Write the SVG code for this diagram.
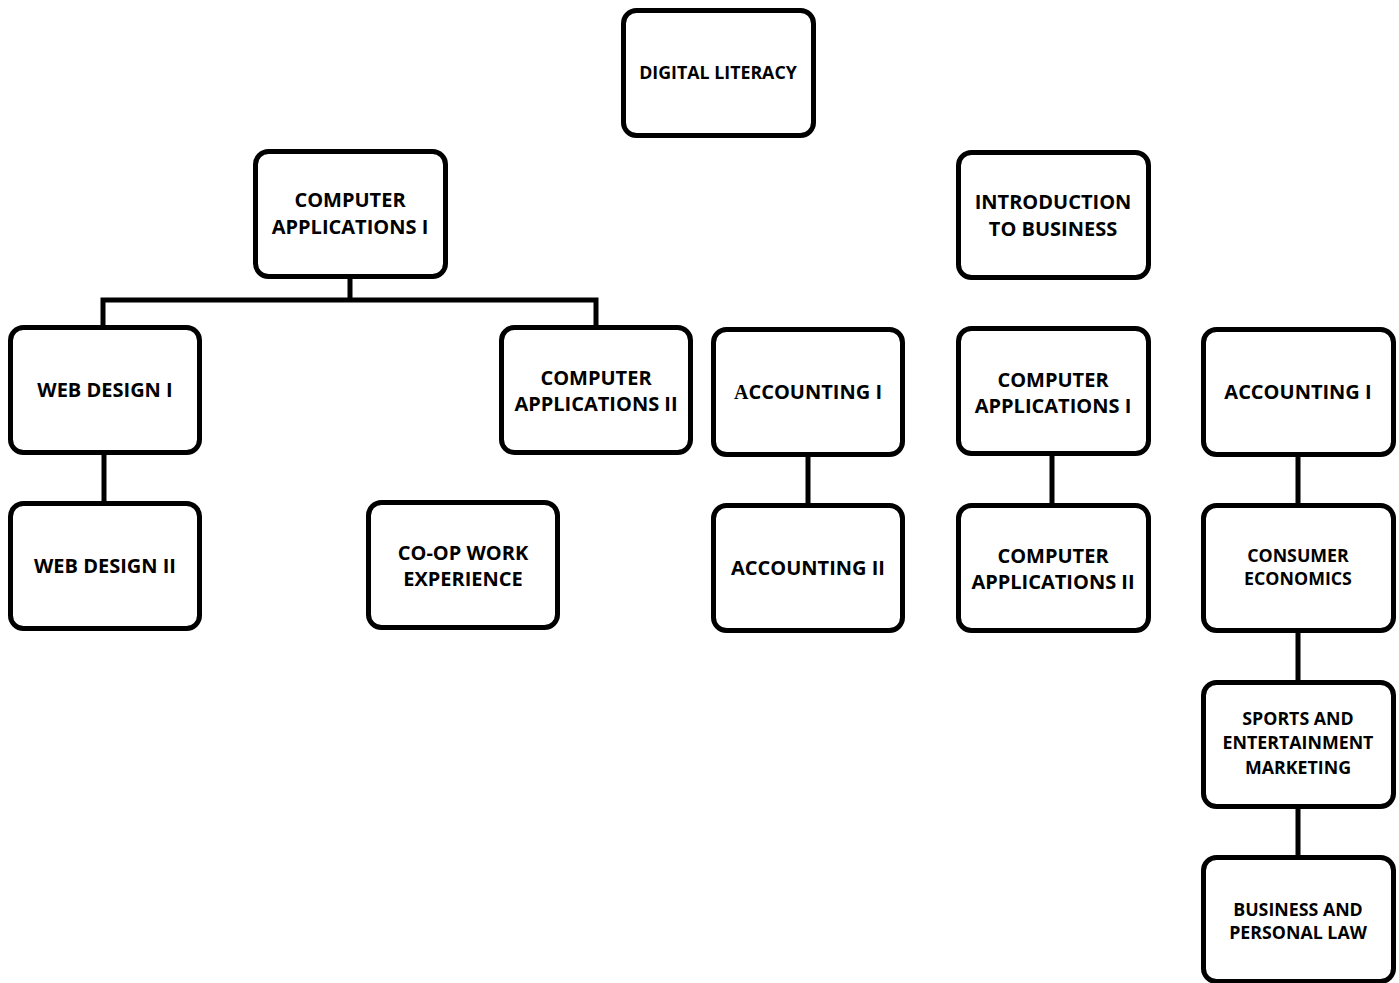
<svg xmlns="http://www.w3.org/2000/svg" width="1399" height="983" viewBox="0 0 1399 983">
<style>
.box{fill:#fff;stroke:#000;stroke-width:5}
.t{font-family:"Open Sans","Liberation Sans",sans-serif;font-weight:bold;font-size:20px;fill:#000;text-anchor:middle}
.s{font-size:17.8px}
.c{fill:none;stroke:#000;stroke-width:5}
</style>
<rect width="1399" height="983" fill="#fff"/>
<g id="connectors">
<path class="c" d="M350 277V300M103 326V300H596V326"/>
<path class="c" d="M104 453V503"/>
<path class="c" d="M808 455V505"/>
<path class="c" d="M1052 455V505"/>
<path class="c" d="M1298 455V505M1298 632V682M1298 807V857"/>
</g>
<g id="digital-literacy"><rect class="box" x="623.5" y="10.5" width="190" height="125" rx="13"/><text class="t s" x="718" y="79">DIGITAL LITERACY</text></g>
<g id="computer-applications-1"><rect class="box" x="255.5" y="151.5" width="190" height="125" rx="13"/><text class="t" x="350" y="207">COMPUTER</text><text class="t" x="350" y="234">APPLICATIONS I</text></g>
<g id="web-design-1"><rect class="box" x="10.5" y="327.5" width="189" height="125" rx="13"/><text class="t" x="105" y="397">WEB DESIGN I</text></g>
<g id="web-design-2"><rect class="box" x="10.5" y="503.5" width="189" height="125" rx="13"/><text class="t" x="105" y="573">WEB DESIGN II</text></g>
<g id="computer-applications-2"><rect class="box" x="501.5" y="327.5" width="189" height="125" rx="13"/><text class="t" x="596" y="385">COMPUTER</text><text class="t" x="596" y="411">APPLICATIONS II</text></g>
<g id="coop-work-experience"><rect class="box" x="368.5" y="502.5" width="189" height="125" rx="13"/><text class="t" x="463" y="560">CO-OP WORK</text><text class="t" x="463" y="586">EXPERIENCE</text></g>
<g id="accounting-1-a"><rect class="box" x="713.5" y="329.5" width="189" height="125" rx="13"/><text class="t" x="808" y="399"><tspan font-family="'Liberation Serif',serif">A</tspan>CCOUNTING I</text></g>
<g id="accounting-2"><rect class="box" x="713.5" y="505.5" width="189" height="125" rx="13"/><text class="t" x="808" y="575">ACCOUNTING II</text></g>
<g id="intro-business"><rect class="box" x="958.5" y="152.5" width="190" height="125" rx="13"/><text class="t" x="1053" y="209">INTRODUCTION</text><text class="t" x="1053" y="236">TO BUSINESS</text></g>
<g id="computer-applications-1-b"><rect class="box" x="958.5" y="328.5" width="190" height="125" rx="13"/><text class="t" x="1053" y="387">COMPUTER</text><text class="t" x="1053" y="413">APPLICATIONS I</text></g>
<g id="computer-applications-2-b"><rect class="box" x="958.5" y="505.5" width="190" height="125" rx="13"/><text class="t" x="1053" y="563">COMPUTER</text><text class="t" x="1053" y="589">APPLICATIONS II</text></g>
<g id="accounting-1-b"><rect class="box" x="1203.5" y="329.5" width="190" height="125" rx="13"/><text class="t" x="1298" y="399">ACCOUNTING I</text></g>
<g id="consumer-economics"><rect class="box" x="1203.5" y="505.5" width="190" height="125" rx="13"/><text class="t s" x="1298" y="562">CONSUMER</text><text class="t s" x="1298" y="585">ECONOMICS</text></g>
<g id="sports-marketing"><rect class="box" x="1203.5" y="682.5" width="190" height="124" rx="13"/><text class="t s" x="1298" y="725">SPORTS AND</text><text class="t s" x="1298" y="749">ENTERTAINMENT</text><text class="t s" x="1298" y="774">MARKETING</text></g>
<g id="business-law"><rect class="box" x="1203.5" y="857.5" width="190" height="124" rx="13"/><text class="t s" x="1298" y="916">BUSINESS AND</text><text class="t s" x="1298" y="939">PERSONAL LAW</text></g>
</svg>
